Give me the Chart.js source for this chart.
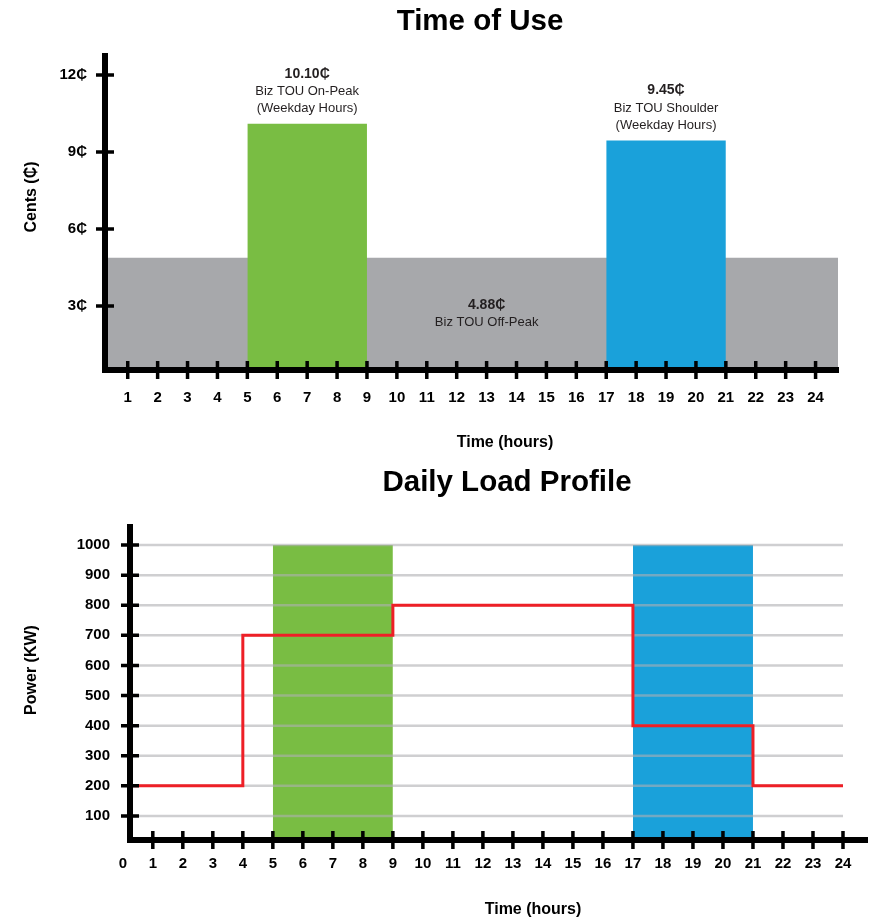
<!DOCTYPE html>
<html>
<head>
<meta charset="utf-8">
<title>Time of Use / Daily Load Profile</title>
<script src="https://cdn.jsdelivr.net/npm/chart.js@4.4.1/dist/chart.umd.min.js"></script>
<style>
  html, body { margin: 0; padding: 0; background: #ffffff; }
  #wrap { position: relative; width: 871px; height: 920px; }
  .panel { position: absolute; left: 0; width: 871px; height: 460px; }
  canvas { display: block; }
</style>
</head>
<body>
<div id="wrap">
  <div class="panel" style="top:0"><canvas id="touChart" width="871" height="460"></canvas></div>
  <div class="panel" style="top:460px"><canvas id="loadChart" width="871" height="460"></canvas></div>
</div>
<script>
// ---- Rate periods (hour of day) and prices in cents ----
const periodNames  = ['Biz TOU Off-Peak', 'Biz TOU On-Peak', 'Biz TOU Shoulder'];
const periodNotes  = ['', '(Weekday Hours)', '(Weekday Hours)'];
const periodStart  = [0, 5, 17];
const periodEnd    = [25, 9, 21];          // off-peak runs under the whole axis
const periodRates  = [4.88, 10.10, 9.45];
const periodColors = ['#a7a8ab', '#79bd43', '#1aa1da'];

// ---- Tick labels ----
const touHourTicks  = [1, 2, 3, 4, 5, 6, 7, 8, 9, 10, 11, 12, 13, 14, 15, 16, 17, 18, 19, 20, 21, 22, 23, 24];
const centTicks     = [3, 6, 9, 12];
const loadHourTicks = [0, 1, 2, 3, 4, 5, 6, 7, 8, 9, 10, 11, 12, 13, 14, 15, 16, 17, 18, 19, 20, 21, 22, 23, 24];
const kwTicks       = [100, 200, 300, 400, 500, 600, 700, 800, 900, 1000];

// ---- Daily load profile: demand (kW) holds from each hour until the next ----
const loadHours = [0, 4, 9, 17, 21, 24];
const loadKW    = [200, 700, 800, 400, 200, 200];

const FONT   = "'Liberation Sans', Arial, 'DejaVu Sans', sans-serif";
const NARROW = "'Liberation Sans Narrow', 'Liberation Sans', Arial, 'DejaVu Sans', sans-serif";
const INK    = '#231f20';

// Black tick marks that cross the thick axis lines
const crossTicks = {
  id: 'crossTicks',
  afterDraw(chart, args, o) {
    const { ctx, chartArea: a, scales: { x, y } } = chart;
    ctx.save();
    ctx.strokeStyle = '#000';
    ctx.lineWidth = o.width;
    ctx.beginPath();
    x.ticks.forEach(t => {
      if (t.value <= x.min) return;
      const px = x.getPixelForValue(t.value);
      ctx.moveTo(px, a.bottom - o.inner);
      ctx.lineTo(px, a.bottom + o.outer);
    });
    y.ticks.forEach(t => {
      const py = y.getPixelForValue(t.value);
      ctx.moveTo(a.left - o.outer, py);
      ctx.lineTo(a.left + o.inner, py);
    });
    ctx.stroke();
    ctx.restore();
  }
};

// Chart heading and axis titles
const captions = {
  id: 'captions',
  afterDraw(chart, args, o) {
    const ctx = chart.ctx;
    ctx.save();
    ctx.fillStyle = '#000';
    ctx.textAlign = 'center';
    ctx.textBaseline = 'middle';
    ctx.font = `bold 29.5px ${FONT}`;
    ctx.fillText(o.title, o.titleAt[0], o.titleAt[1]);
    ctx.font = `bold 16px ${FONT}`;
    ctx.fillText(o.xTitle, o.xTitleAt[0], o.xTitleAt[1]);
    ctx.translate(o.yTitleAt[0], o.yTitleAt[1]);
    ctx.rotate(-Math.PI / 2);
    ctx.fillText(o.yTitle, 0, 0);
    ctx.restore();
  }
};

// Price callouts for each rate period
const rateLabels = {
  id: 'rateLabels',
  afterDatasetsDraw(chart) {
    const { ctx, chartArea: a, scales: { x, y } } = chart;
    ctx.save();
    ctx.fillStyle = INK;
    ctx.textAlign = 'center';
    ctx.textBaseline = 'middle';
    periodRates.forEach((rate, i) => {
      const price = rate.toFixed(2) + '₵';
      if (i === 0) {
        // off-peak: centred in the gap between on-peak and shoulder
        const cx = x.getPixelForValue((periodEnd[1] + periodStart[2]) / 2);
        const mid = (y.getPixelForValue(rate) + a.bottom) / 2;
        ctx.font = `bold 14px ${NARROW}`;
        ctx.fillText(price, cx, mid - 9);
        ctx.font = `13px ${NARROW}`;
        ctx.fillText(periodNames[i], cx, mid + 9);
      } else {
        const cx = x.getPixelForValue((periodStart[i] + periodEnd[i]) / 2);
        const top = y.getPixelForValue(rate);
        ctx.font = `bold 14px ${NARROW}`;
        ctx.fillText(price, cx, top - 50);
        ctx.font = `13px ${NARROW}`;
        ctx.fillText(periodNames[i], cx, top - 32);
        ctx.fillText(periodNotes[i], cx, top - 15);
      }
    });
    ctx.restore();
  }
};

// Light horizontal guides, laid over the period bands but under the load line
const loadGrid = {
  id: 'loadGrid',
  beforeDatasetDraw(chart, args) {
    if (chart.data.datasets[args.index].label !== 'Load') return;
    const { ctx, chartArea: a, scales: { x, y } } = chart;
    const right = x.getPixelForValue(loadHourTicks[loadHourTicks.length - 1]);
    ctx.save();
    ctx.strokeStyle = 'rgba(175,175,178,0.6)';
    ctx.lineWidth = 2.5;
    ctx.beginPath();
    y.ticks.forEach(t => {
      const py = y.getPixelForValue(t.value);
      ctx.moveTo(a.left, py);
      ctx.lineTo(right, py);
    });
    ctx.stroke();
    ctx.restore();
  }
};

function periodArea(i, height, order) {
  return {
    label: periodNames[i],
    data: [{ x: periodStart[i], y: height }, { x: periodEnd[i], y: height }],
    backgroundColor: periodColors[i],
    borderColor: 'transparent',
    borderWidth: 0,
    pointRadius: 0,
    fill: 'start',
    order: order
  };
}

function axisBase(extra) {
  return Object.assign({
    type: 'linear',
    grid: { display: false, drawTicks: false },
    border: { display: true, color: '#000', width: 6, z: 1 },
  }, extra);
}

const tickFont = { family: FONT, size: 15, weight: 'bold' };

// ---------------- Time of Use ----------------
new Chart(document.getElementById('touChart'), {
  type: 'line',
  data: {
    datasets: [
      periodArea(1, periodRates[1], 1),
      periodArea(2, periodRates[2], 1),
      periodArea(0, periodRates[0], 2)
    ]
  },
  options: {
    responsive: false,
    animation: false,
    devicePixelRatio: 1,
    layout: { padding: { top: 56, right: 33, left: 0, bottom: 0 } },
    plugins: {
      legend: { display: false },
      tooltip: { enabled: false },
      crossTicks: { width: 3.5, inner: 9, outer: 9 },
      captions: {
        title: 'Time of Use', titleAt: [480, 22],
        xTitle: 'Time (hours)', xTitleAt: [505, 443],
        yTitle: 'Cents (₵)', yTitleAt: [32, 197]
      }
    },
    scales: {
      x: axisBase({
        min: 0.24, max: 24.75,
        afterBuildTicks: s => { s.ticks = touHourTicks.map(v => ({ value: v })); },
        afterFit: s => { s.height = 90; },
        ticks: { autoSkip: false, maxRotation: 0, padding: 19, color: '#000', font: tickFont,
                 callback: v => String(v) }
      }),
      y: axisBase({
        min: 0.506, max: 12.74,
        afterBuildTicks: s => { s.ticks = centTicks.map(v => ({ value: v })); },
        afterFit: s => { s.width = 105; },
        ticks: { padding: 18, color: '#000', font: tickFont, callback: v => v + '₵' }
      })
    }
  },
  plugins: [rateLabels, crossTicks, captions]
});

// ---------------- Daily Load Profile ----------------
const bandTop = kwTicks[kwTicks.length - 1];
new Chart(document.getElementById('loadChart'), {
  type: 'line',
  data: {
    datasets: [
      {
        label: 'Load',
        data: loadHours.map((h, i) => ({ x: h, y: loadKW[i] })),
        stepped: 'before',
        borderColor: '#ee1f26',
        borderWidth: 3,
        pointRadius: 0,
        fill: false,
        order: 0
      },
      periodArea(1, bandTop, 1),
      periodArea(2, bandTop, 1)
    ]
  },
  options: {
    responsive: false,
    animation: false,
    devicePixelRatio: 1,
    layout: { padding: { top: 67, right: 4, left: 0, bottom: 0 } },
    plugins: {
      legend: { display: false },
      tooltip: { enabled: false },
      crossTicks: { width: 3.5, inner: 9, outer: 9 },
      captions: {
        title: 'Daily Load Profile', titleAt: [507, 23],
        xTitle: 'Time (hours)', xTitleAt: [533, 450],
        yTitle: 'Power (KW)', yTitleAt: [32, 210]
      }
    },
    scales: {
      x: axisBase({
        min: 0.24, max: 24.8,
        afterBuildTicks: s => { s.ticks = loadHourTicks.map(v => ({ value: v })); },
        afterFit: s => { s.height = 80; },
        ticks: { autoSkip: false, maxRotation: 0, padding: 15, color: '#000', font: tickFont,
                 callback: v => String(v) }
      }),
      y: axisBase({
        min: 20, max: 1060,
        afterBuildTicks: s => { s.ticks = kwTicks.map(v => ({ value: v })); },
        afterFit: s => { s.width = 130; },
        ticks: { padding: 20, color: '#000', font: tickFont, callback: v => String(v) }
      })
    }
  },
  plugins: [loadGrid, crossTicks, captions]
});
</script>
</body>
</html>
